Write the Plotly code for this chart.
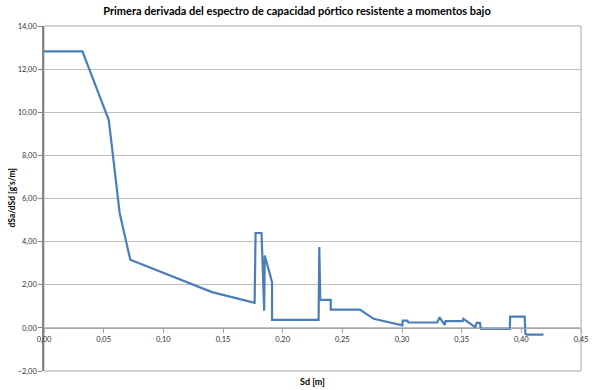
import plotly.graph_objects as go

# Data
sd = [0.0, 0.0322, 0.0543, 0.0634, 0.0723, 0.1408, 0.1765, 0.1773, 0.1823, 0.1845,
      0.1850, 0.1911, 0.1911, 0.2301, 0.2307, 0.2315, 0.2403, 0.2403, 0.2647, 0.2763,
      0.3003, 0.3006, 0.3045, 0.3053, 0.3296, 0.3315, 0.3357, 0.3365, 0.3509, 0.3514,
      0.3614, 0.3625, 0.3653, 0.3661, 0.3904, 0.3906, 0.4028, 0.4034, 0.4045, 0.4186]
dsa = [12.82, 12.82, 9.64, 5.33, 3.16, 1.66, 1.16, 4.40, 4.40, 0.80,
       3.36, 2.12, 0.37, 0.37, 3.75, 1.30, 1.30, 0.85, 0.85, 0.42,
       0.12, 0.34, 0.34, 0.25, 0.25, 0.49, 0.14, 0.31, 0.31, 0.42,
       0.03, 0.23, 0.23, -0.05, -0.05, 0.52, 0.52, -0.28, -0.31, -0.31]

title_text = "Primera derivada del espectro de capacidad pórtico resistente a momentos bajo"
x_title = "Sd [m]"
y_title = "dSa/dSd [g's/m]"
x_range = [0, 0.45]
y_range = [-2, 14]

FONT = "Lato, Noto Sans, sans-serif"

fig = go.Figure()
fig.add_trace(go.Scatter(
    x=sd, y=dsa, mode="lines",
    line=dict(color="#4A7EBB", width=2.2),
    showlegend=False, hoverinfo="skip"))

zero_pos = (0 - y_range[0]) / (y_range[1] - y_range[0])

fig.update_layout(
    width=600, height=390,
    margin=dict(l=44, r=14, t=26, b=19),
    paper_bgcolor="white", plot_bgcolor="white",
    separators=",.",
    font=dict(family=FONT, size=8, color="#404040"),
    title=dict(text="<b>" + title_text + "</b>", x=0.495, xanchor="center",
               y=1 - 11 / 390, yanchor="middle",
               font=dict(family=FONT, size=11, color="#000000")),
    xaxis=dict(range=x_range, dtick=0.05, tick0=0, tickformat=".2f",
               anchor="free", position=zero_pos,
               showline=True, linecolor="#A6A6A6", linewidth=1,
               ticks="outside", ticklen=4, tickcolor="#A6A6A6",
               showgrid=False, zeroline=False,
               tickfont=dict(family=FONT, size=7.5, color="#333333")),
    yaxis=dict(range=y_range, dtick=2, tick0=0, tickformat=".2f",
               showline=True, linecolor="#868686", linewidth=1.5,
               ticks="outside", ticklen=4, tickcolor="#868686",
               showgrid=True, gridcolor="#BFBFBF", gridwidth=1,
               zeroline=False,
               tickfont=dict(family=FONT, size=7.5, color="#333333")),
    shapes=[dict(type="rect", xref="paper", yref="paper", x0=0, x1=1, y0=0, y1=1,
                 line=dict(color="#A6A6A6", width=1), layer="below")],
    annotations=[
        dict(text="<b>" + x_title + "</b>", xref="paper", yref="paper",
             x=0.5, y=0, yshift=-10, showarrow=False, yanchor="middle",
             font=dict(family=FONT, size=9, color="#000000")),
        dict(text="<b>" + y_title + "</b>", xref="paper", yref="paper",
             x=0, xshift=-33, y=0.5, showarrow=False, textangle=-90,
             xanchor="center", yanchor="middle",
             font=dict(family=FONT, size=8.5, color="#000000")),
    ],
)

fig.write_html("out.html", config={"displayModeBar": False},
               post_script="document.body.style.margin='0';")
